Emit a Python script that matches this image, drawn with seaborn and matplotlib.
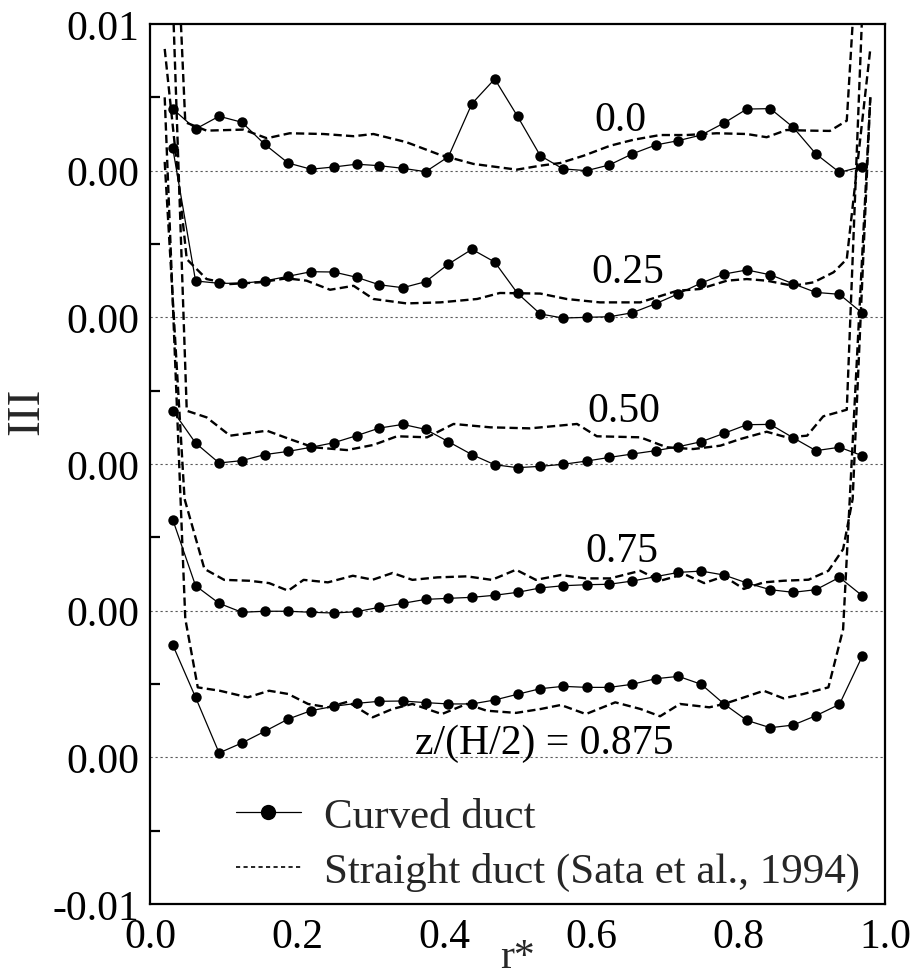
import numpy as np
import pandas as pd
import matplotlib
matplotlib.use("Agg")
import matplotlib.pyplot as plt
from matplotlib.lines import Line2D
from matplotlib.ticker import FixedLocator, MultipleLocator
import seaborn as sns

# ---------------------------------------------------------------------------
# Data: third invariant III of the anisotropy tensor across the duct (r*)
# at several heights z/(H/2); each profile is stacked with its own zero line.
# ---------------------------------------------------------------------------
levels = ["0.0", "0.25", "0.50", "0.75", "z/(H/2) = 0.875"]
offsets = [0.04, 0.03, 0.02, 0.01, 0.0]

# Curved duct measurement stations
r_curved = [0.031, 0.062, 0.094, 0.125, 0.156, 0.188, 0.219, 0.250, 0.281, 0.312,
            0.344, 0.375, 0.406, 0.438, 0.469, 0.500, 0.531, 0.562, 0.594, 0.625,
            0.656, 0.688, 0.719, 0.750, 0.781, 0.812, 0.844, 0.875, 0.906, 0.938,
            0.969]

curved_000 = [0.00421, 0.00284, 0.00371, 0.0033, 0.0018, 0.00052, 0.0001, 0.00025,
              0.00044, 0.00034, 0.00016, -0.00007, 0.00095, 0.00457, 0.00625, 0.00371,
              0.00102, 0.00012, 0.0, 0.00039, 0.00114, 0.00175, 0.00205, 0.00243,
              0.00325, 0.0042, 0.00423, 0.00296, 0.00114, -0.00011, 0.00027]
curved_025 = [0.01152, 0.00248, 0.00232, 0.00232, 0.00248, 0.0028, 0.00311, 0.00309,
              0.00273, 0.00222, 0.00202, 0.00243, 0.00363, 0.00464, 0.00377, 0.00164,
              0.00023, -0.00005, 0.0, 0.00004, 0.00031, 0.00093, 0.00161, 0.00234,
              0.00295, 0.00323, 0.0029, 0.00229, 0.0017, 0.00157, 0.00029]
curved_050 = [0.00364, 0.00143, 0.00007, 0.00023, 0.00064, 0.00086, 0.00114, 0.00145,
              0.00193, 0.00245, 0.0027, 0.00236, 0.00152, 0.00064, -0.00005, -0.00025,
              -0.00016, -0.00002, 0.0002, 0.00045, 0.00068, 0.00091, 0.00118, 0.00152,
              0.00209, 0.00268, 0.0027, 0.00179, 0.00091, 0.00114, 0.00057]
curved_075 = [0.0062, 0.0017, 0.0005, -0.00011, -0.00004, -0.00004, -0.00011, -0.00016,
              -0.00007, 0.00023, 0.0005, 0.00077, 0.00084, 0.00091, 0.00105, 0.00125,
              0.00155, 0.0017, 0.00177, 0.0018, 0.00202, 0.00232, 0.00261, 0.0027,
              0.00243, 0.00189, 0.00143, 0.00125, 0.00143, 0.00227, 0.00102]
curved_0875 = [0.00766, 0.00409, 0.0003, 0.00098, 0.00177, 0.00261, 0.00318, 0.00348,
               0.00368, 0.00382, 0.00384, 0.00373, 0.00364, 0.00364, 0.00391, 0.0043,
               0.00468, 0.00484, 0.00477, 0.00477, 0.00498, 0.00536, 0.00552, 0.00498,
               0.00364, 0.00252, 0.00202, 0.0022, 0.00284, 0.00361, 0.00689]

# Straight duct (Sata et al., 1994)
r_straight_000 = [0.02, 0.048, 0.077, 0.127, 0.159, 0.19, 0.236, 0.277, 0.304, 0.349,
                  0.395, 0.44, 0.499, 0.531, 0.558, 0.59, 0.626, 0.658, 0.694, 0.73,
                  0.771, 0.812, 0.839, 0.866, 0.898, 0.925, 0.948, 0.98]
straight_000 = [0.035, 0.0033, 0.00273, 0.0028, 0.00221, 0.00255, 0.0025, 0.00235,
                0.0025, 0.00194, 0.00107, 0.00046, 0.00007, 0.00034, 0.00052, 0.00102,
                0.0017, 0.00211, 0.00243, 0.00243, 0.00255, 0.0025, 0.00228, 0.00277,
                0.00273, 0.00271, 0.00341, 0.030]

r_straight_025 = [0.02, 0.05, 0.077, 0.109, 0.15, 0.186, 0.213, 0.245, 0.277, 0.304,
                  0.349, 0.395, 0.445, 0.476, 0.531, 0.567, 0.612, 0.667, 0.717, 0.748,
                  0.785, 0.812, 0.839, 0.875, 0.903, 0.93, 0.948, 0.98]
straight_025 = [0.0183, 0.00397, 0.00261, 0.00227, 0.00239, 0.00266, 0.0025, 0.00188,
                0.00215, 0.00125, 0.00095, 0.00102, 0.00125, 0.00166, 0.00162, 0.00125,
                0.00102, 0.00102, 0.00181, 0.00193, 0.0025, 0.00261, 0.0025, 0.00215,
                0.00239, 0.00307, 0.00397, 0.0183]

r_straight_050 = [0.02, 0.05, 0.077, 0.109, 0.159, 0.19, 0.222, 0.268, 0.304, 0.336,
                  0.377, 0.413, 0.463, 0.517, 0.581, 0.608, 0.667, 0.703, 0.739, 0.776,
                  0.803, 0.839, 0.866, 0.894, 0.916, 0.948, 0.98]
straight_050 = [0.048, 0.00363, 0.00318, 0.00193, 0.00227, 0.0017, 0.00114, 0.00095,
                0.0013, 0.00189, 0.00182, 0.00273, 0.0025, 0.00243, 0.00273, 0.00189,
                0.00182, 0.00114, 0.00102, 0.00125, 0.0017, 0.0022, 0.00182, 0.00193,
                0.00325, 0.0037, 0.045]

r_straight_075 = [0.02, 0.047, 0.074, 0.101, 0.135, 0.162, 0.188, 0.209, 0.242, 0.276,
                  0.303, 0.33, 0.357, 0.391, 0.431, 0.465, 0.498, 0.525, 0.559, 0.593,
                  0.626, 0.667, 0.694, 0.727, 0.754, 0.781, 0.808, 0.835, 0.862, 0.896,
                  0.923, 0.943, 0.956, 0.98]
straight_075 = [0.0306, 0.00762, 0.00285, 0.0021, 0.00204, 0.00188, 0.00136, 0.0021,
                0.00193, 0.00238, 0.00211, 0.00257, 0.0021, 0.00227, 0.00234, 0.0021,
                0.00279, 0.0021, 0.00243, 0.0022, 0.0022, 0.00272, 0.00204, 0.00249,
                0.00188, 0.00234, 0.00148, 0.00193, 0.00204, 0.00211, 0.00272, 0.00419,
                0.00762, 0.035]

r_straight_0875 = [0.02, 0.048, 0.065, 0.095, 0.133, 0.162, 0.188, 0.215, 0.242, 0.269,
                   0.303, 0.33, 0.357, 0.397, 0.431, 0.458, 0.498, 0.532, 0.559, 0.593,
                   0.633, 0.667, 0.694, 0.721, 0.761, 0.781, 0.815, 0.835, 0.862, 0.889,
                   0.923, 0.943, 0.98]
straight_0875 = [0.045, 0.00945, 0.00477, 0.00454, 0.00409, 0.00454, 0.00432, 0.00364,
                 0.00341, 0.00379, 0.00273, 0.0033, 0.00364, 0.00295, 0.00364, 0.00318,
                 0.00303, 0.0033, 0.00357, 0.00295, 0.00375, 0.0033, 0.0028, 0.00364,
                 0.00341, 0.00364, 0.0042, 0.00454, 0.00402, 0.00432, 0.00477, 0.00873,
                 0.045]

curved = [curved_000, curved_025, curved_050, curved_075, curved_0875]
straight_r = [r_straight_000, r_straight_025, r_straight_050, r_straight_075, r_straight_0875]
straight = [straight_000, straight_025, straight_050, straight_075, straight_0875]

y_tick_pos = [-0.01, 0.0, 0.01, 0.02, 0.03, 0.04, 0.05]
y_tick_labels = ["-0.01", "0.00", "0.00", "0.00", "0.00", "0.00", "0.01"]
x_tick_pos = [0.0, 0.2, 0.4, 0.6, 0.8, 1.0]
x_tick_labels = ["0.0", "0.2", "0.4", "0.6", "0.8", "1.0"]

# label anchor positions (r*, III in stacked units, baseline)
label_pos = [(0.605, 0.0428), (0.601, 0.0324), (0.595, 0.0229), (0.593, 0.0134), (0.36, 0.0003)]

# ---------------------------------------------------------------------------
sns.set_theme(style="white")
plt.rcParams["font.family"] = ["Liberation Serif", "DejaVu Serif"]
plt.rcParams["axes.edgecolor"] = "black"
plt.rcParams["axes.linewidth"] = 1.6

FS = 30
fig = plt.figure(figsize=(9.16, 9.78), dpi=100)
ax = fig.add_axes([150 / 916, 1 - 905 / 978, 735 / 916, 880 / 978])

dash_style = (0, (3.5, 1.8))

# straight duct profiles (dashed)
for r_s, v_s, off in zip(straight_r, straight, offsets):
    df = pd.DataFrame({"r": r_s, "III": np.asarray(v_s) + off})
    sns.lineplot(data=df, x="r", y="III", ax=ax, color="black", lw=1.7,
                 estimator=None, sort=False, legend=False)
    ax.lines[-1].set_dashes(dash_style[1])

# zero reference lines
for off in offsets:
    ax.axhline(off, color="0.35", lw=0.8, ls=(0, (2, 2.5)), zorder=1)

# curved duct profiles (solid with markers)
for v_c, off in zip(curved, offsets):
    df = pd.DataFrame({"r": r_curved, "III": np.asarray(v_c) + off})
    sns.lineplot(data=df, x="r", y="III", ax=ax, color="black", lw=0.9,
                 marker="o", markersize=7.5, markeredgewidth=0,
                 estimator=None, sort=False, legend=False, zorder=5)

for (lx, ly), txt in zip(label_pos, levels):
    ax.text(lx, ly, txt, fontsize=FS, ha="left", va="baseline", color="black")

ax.set_xlim(0.0, 1.0)
ax.set_ylim(-0.01, 0.05)

ax.xaxis.set_major_locator(FixedLocator(x_tick_pos))
ax.set_xticklabels(x_tick_labels)
ax.yaxis.set_major_locator(FixedLocator(y_tick_pos))
ax.set_yticklabels(y_tick_labels)
ax.yaxis.set_minor_locator(MultipleLocator(0.005))

ax.tick_params(axis="both", which="major", direction="in", length=12, width=1.6,
               labelsize=FS, color="black", labelcolor="black")
ax.tick_params(axis="y", which="major", pad=8)
ax.tick_params(axis="x", which="major", pad=10)
ax.tick_params(axis="y", which="minor", direction="in", length=7, width=1.6,
               left=True, color="black")
ax.tick_params(axis="x", which="minor", bottom=False)
ax.tick_params(top=False, right=False)

for sp in ax.spines.values():
    sp.set_visible(True)
    sp.set_color("black")
    sp.set_linewidth(1.6)

ax.set_xlabel("r*", fontsize=FS)
ax.xaxis.label.set_va("baseline")
ax.xaxis.set_label_coords(0.5, -0.0716)
ax.set_ylabel("III", fontsize=34)
ax.yaxis.set_label_coords(-0.139, 0.561)

handles = [
    Line2D([], [], color="black", lw=0.9, marker="o", markersize=11, markeredgewidth=0),
    Line2D([], [], color="black", lw=1.2, ls=(0, (2.5, 2))),
]
ax.legend(handles, ["Curved duct", "Straight duct (Sata et al., 1994)"],
          loc="lower left", bbox_to_anchor=(0.117, 0.015), frameon=False,
          fontsize=31, handlelength=1.5, handletextpad=0.55, labelspacing=0.36,
          borderpad=0, borderaxespad=0)

fig.savefig("out.png", dpi=100)
